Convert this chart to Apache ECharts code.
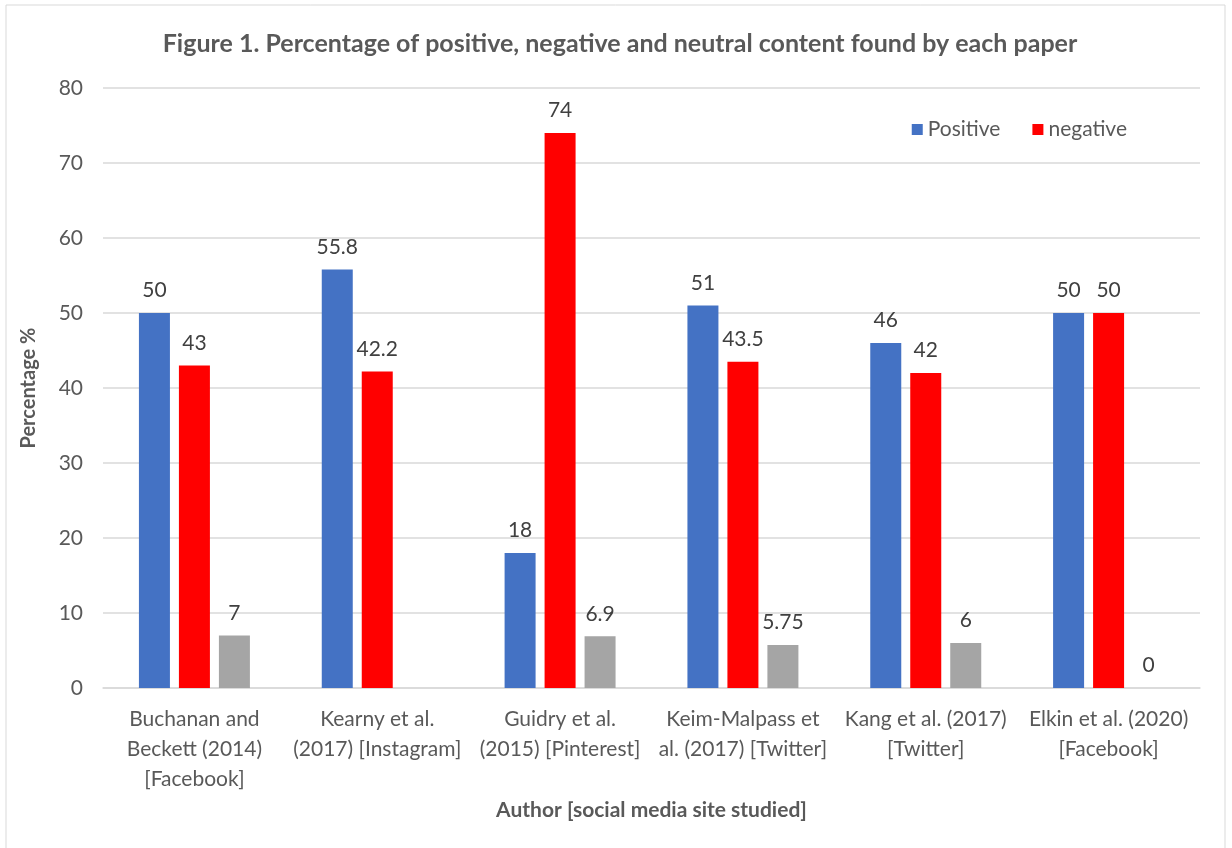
<!DOCTYPE html>
<html>
<head>
<meta charset="utf-8">
<script src="https://cdn.jsdelivr.net/npm/echarts@6/dist/echarts.min.js"></script>
<style>
  html, body { margin: 0; padding: 0; background: #fff; }
  #chart { width: 1232px; height: 848px; }
</style>
</head>
<body>
<div id="chart"></div>
<script>
// values
const authors = [
  'Buchanan and\nBeckett (2014)\n[Facebook]',
  'Kearny et al.\n(2017) [Instagram]',
  'Guidry et al.\n(2015) [Pinterest]',
  'Keim-Malpass et\nal. (2017) [Twitter]',
  'Kang et al. (2017)\n[Twitter]',
  'Elkin et al. (2020)\n[Facebook]'
];
const positive = [50, 55.8, 18, 51, 46, 50];
const negative = [43, 42.2, 74, 43.5, 42, 50];
const neutral = [7, null, 6.9, 5.75, 6, 0];

const font = 'Lato, "Open Sans", sans-serif';
const labelStyle = { show: true, position: 'top', distance: 12, color: '#404040', fontSize: 21, fontFamily: font };

let chart = echarts.init(document.getElementById('chart'));
chart.setOption({
  animation: false,
  title: {
    text: 'Figure 1. Percentage of positive, negative and neutral content found by each paper',
    left: 615, textAlign: 'center', top: 26,
    textStyle: { color: '#595959', fontSize: 25, fontWeight: 'bold', fontFamily: font }
  },
  graphic: [{
    type: 'rect', shape: { x: 6, y: 5, width: 1219, height: 850 },
    style: { fill: 'none', stroke: '#d9d9d9', lineWidth: 1 }
  }],
  legend: {
    data: ['Positive', 'negative'],
    right: 100, top: 114,
    itemWidth: 11, itemHeight: 11, itemGap: 32,
    icon: 'rect',
    textStyle: { color: '#595959', fontSize: 21, fontFamily: font }
  },
  grid: { left: 103, right: 32, top: 88, bottom: 160 },
  xAxis: {
    type: 'category',
    data: authors,
    name: 'Author [social media site studied]',
    nameLocation: 'middle', nameGap: 112,
    nameTextStyle: { color: '#595959', fontSize: 21, fontWeight: 'bold', fontFamily: font },
    axisLine: { lineStyle: { color: '#d9d9d9', width: 1.5 } },
    axisTick: { show: false },
    axisLabel: { color: '#595959', fontSize: 21, fontFamily: font, lineHeight: 30, margin: 16, interval: 0 }
  },
  yAxis: {
    type: 'value', min: 0, max: 80, interval: 10,
    name: 'Percentage %',
    nameLocation: 'middle', nameGap: 64,
    nameTextStyle: { color: '#595959', fontSize: 20, fontWeight: 'bold', fontFamily: font },
    axisLine: { show: false },
    axisTick: { show: false },
    axisLabel: { color: '#595959', fontSize: 21, fontFamily: font, margin: 20 },
    splitLine: { lineStyle: { color: '#d9d9d9', width: 1.5 } }
  },
  series: [
    { name: 'Positive', type: 'bar', data: positive, barWidth: 31, barGap: '29%',
      itemStyle: { color: '#4472c4' }, label: labelStyle },
    { name: 'negative', type: 'bar', data: negative, barWidth: 31,
      itemStyle: { color: '#ff0000' }, label: labelStyle },
    { name: 'neutral', type: 'bar', data: neutral, barWidth: 31,
      itemStyle: { color: '#a5a5a5' }, label: labelStyle }
  ]
});
</script>
</body>
</html>
